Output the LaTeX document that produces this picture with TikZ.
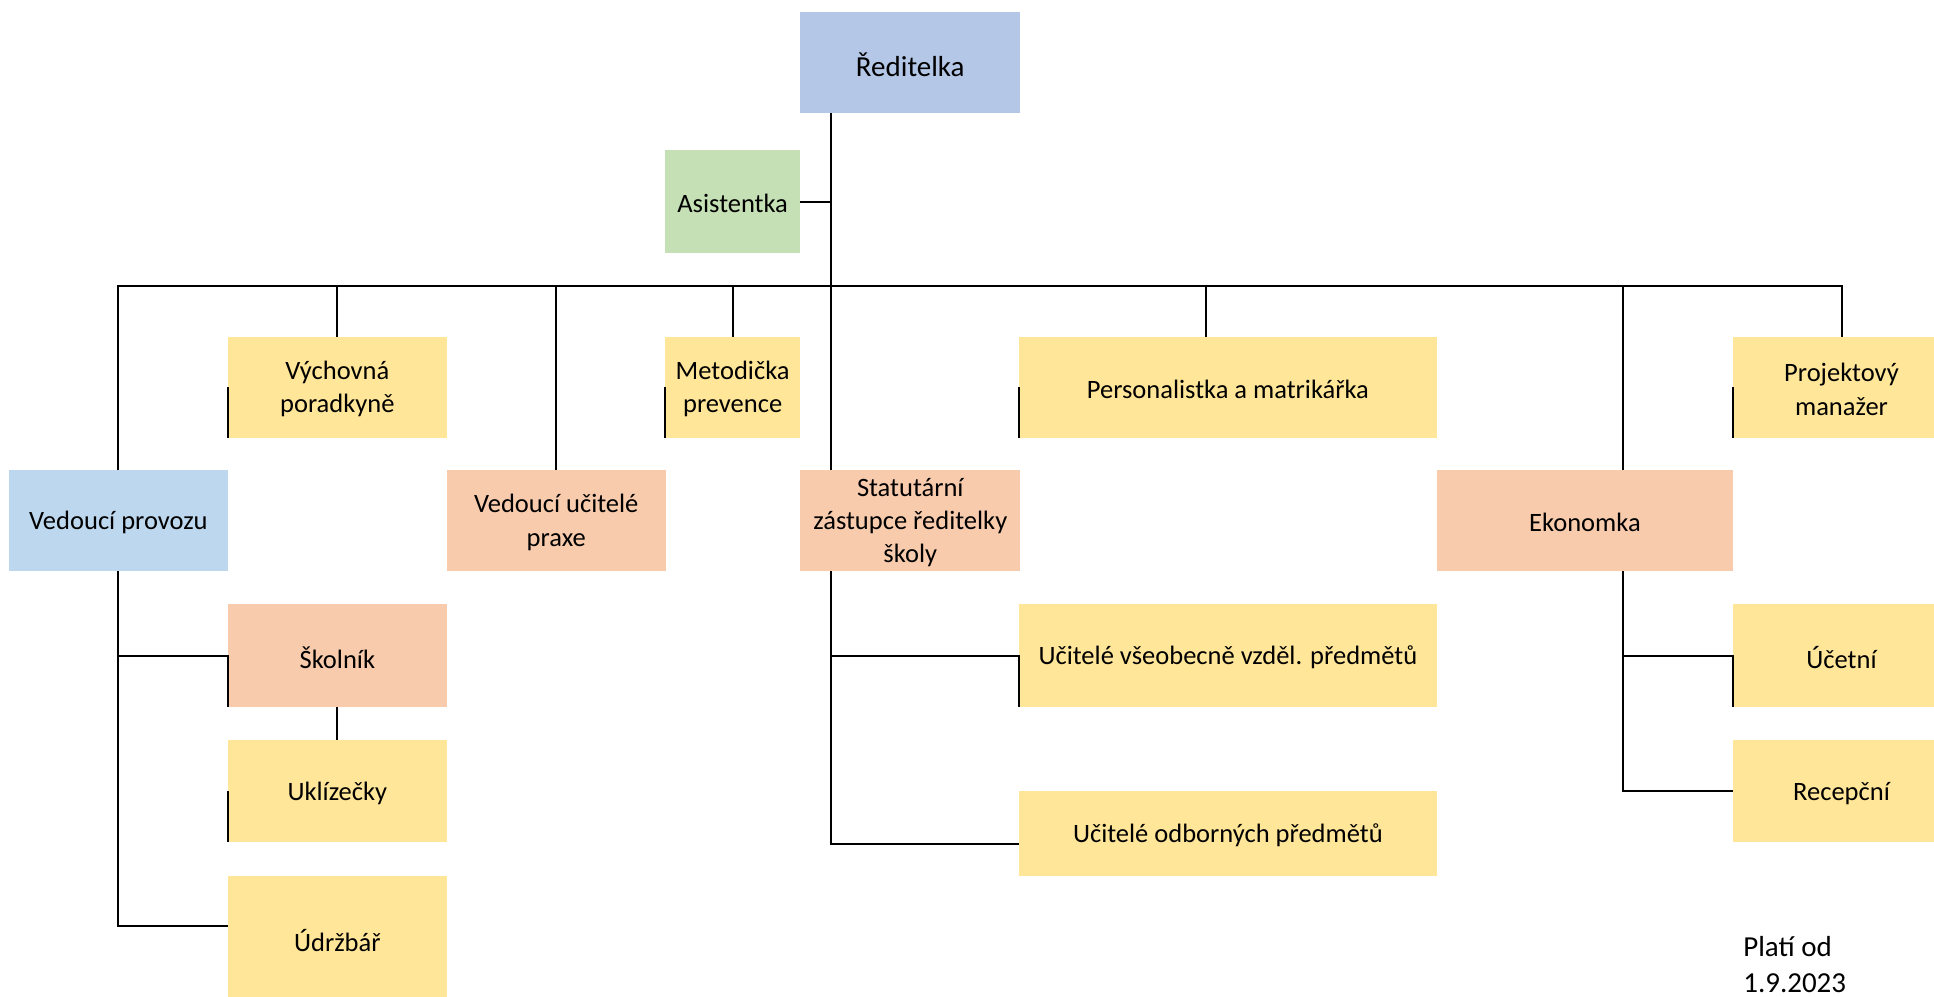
\documentclass[tikz,border=0pt]{standalone}
\usepackage{fontspec}
\setmainfont{Carlito}
\usetikzlibrary{calc}
\definecolor{cRed}{HTML}{B4C7E7}
\definecolor{cGreen}{HTML}{C5E0B4}
\definecolor{cBlue}{HTML}{BDD7EE}
\definecolor{cOr}{HTML}{F8CBAD}
\definecolor{cYel}{HTML}{FFE699}
\newcommand\orgbox[7]{%
  \node[orgnode, fill=#6, minimum width={(#4-#2)*0.5pt}, minimum height={(#5-#3)*0.5pt}]
    (#1) at ({(#2+#4)/2},{(#3+#5)/2}) {};
  \node[orgtext] (#1-t) at ([yshift=-0.8pt]#1.center) {#7};}
\begin{document}
\begin{tikzpicture}[x=0.5pt,y=-0.5pt,
  orgnode/.style={inner sep=0pt, outer sep=0pt},
  orgtext/.style={inner sep=0pt, outer sep=0pt, align=center, text=black,
    font=\fontsize{10.75}{13.5}\selectfont},
  link/.style={line width=0.8pt, draw=black}]
\useasboundingbox (0,0) rectangle (1568,808);
\clip (0,0) rectangle (1568,808);

\orgbox{red}{649}{10}{827}{92}{cRed}{\fontsize{11.75}{14}\selectfont Ředitelka}
\orgbox{asi}{539}{122}{649}{205}{cGreen}{Asistentka}
\orgbox{vyc}{185}{273}{362}{355}{cYel}{Výchovná\\poradkyně}
\orgbox{met}{539}{273}{649}{355}{cYel}{Metodička\\prevence}
\orgbox{per}{826}{273}{1165}{355}{cYel}{Personalistka a matrikářka}
\orgbox{pro}{1405}{273}{1581}{355}{cYel}{Projektový\\manažer}
\orgbox{vp}{7}{381}{185}{463}{cBlue}{Vedoucí provozu}
\orgbox{vup}{362}{381}{540}{463}{cOr}{Vedoucí učitelé\\praxe}
\orgbox{sta}{649}{381}{827}{463}{cOr}{Statutární\\zástupce ředitelky\\školy}
\orgbox{eko}{1165}{381}{1405}{463}{cOr}{Ekonomka}
\orgbox{sko}{185}{490}{362}{573}{cOr}{Školník}
\orgbox{ukl}{185}{600}{362}{683}{cYel}{Uklízečky}
\orgbox{udr}{185}{710}{362}{812}{cYel}{Údržbář}
\orgbox{uvs}{826}{490}{1165}{573}{cYel}{Učitelé všeobecně vzděl. předmětů}
\orgbox{uod}{826}{641}{1165}{710}{cYel}{Učitelé odborných předmětů}
\orgbox{uce}{1405}{490}{1581}{573}{cYel}{Účetní}
\orgbox{rec}{1405}{600}{1581}{683}{cYel}{Recepční}

\node[anchor=north west, align=left, inner sep=0pt, font=\fontsize{11.75}{14.5}\selectfont]
  (plati) at (1413,759) {Platí od\\1.9.2023};

% bus and trunk
\coordinate (busY) at (0,232);
\coordinate (trT) at ([xshift=12.5pt]red.south west);
\coordinate (trB) at ([xshift=12.5pt]sta.north west);
\draw[link] (trT) -- (trB);
\draw[link] (asi.east) -- (asi.east -| trT);
\draw[link] (vp.north) -- (vp.north |- busY) -- (pro.north |- busY) -- (pro.north);
\draw[link] (vyc.north) -- (vyc.north |- busY);
\draw[link] (vup.north) -- (vup.north |- busY);
\draw[link] (met.north) -- (met.north |- busY);
\coordinate (perx) at ([xshift=-9pt]per.north);
\draw[link] (perx) -- (perx |- busY);
\coordinate (ekx) at ([xshift=15.5pt]eko.north);
\draw[link] (ekx) -- (ekx |- busY);

% half edge lines
\draw[link] (vyc.west) -- (vyc.south west);
\draw[link] (met.west) -- (met.south west);
\draw[link] (per.west) -- (per.south west);
\draw[link] (pro.west) -- (pro.south west);

% Vedouci provozu subtree
\draw[link] (vp.south) |- ([yshift=5pt]udr.west);
\draw[link] (vp.south |- sko.west) -- (sko.west) -- (sko.south west);
\draw[link] (sko.south) -- (ukl.north);
\draw[link] (ukl.west) -- (ukl.south west);

% Statutarni subtree
\coordinate (stx) at ([xshift=12.5pt]sta.south west);
\draw[link] (stx) |- ([yshift=-4.25pt]uod.west);
\draw[link] (stx |- uvs.west) -- (uvs.west) -- (uvs.south west);

% Ekonomka subtree
\coordinate (eks) at ([xshift=15.5pt]eko.south);
\draw[link] (eks) |- (rec.west);
\draw[link] (eks |- uce.west) -- (uce.west) -- (uce.south west);
\end{tikzpicture}
\end{document}
